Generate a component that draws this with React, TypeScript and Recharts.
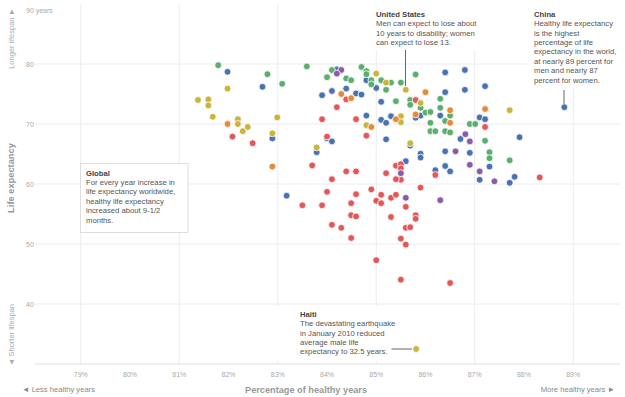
import React from 'react';
import { ScatterChart, Scatter, XAxis, YAxis, ReferenceLine } from 'recharts';

const FONT = '"Liberation Sans", Arial, Helvetica, sans-serif';

// [percentage of healthy years, life expectancy in years]
const bluePoints = [
  [81.98, 78.7], [82.69, 76.2], [82.89, 67.6], [84.2, 79.1], [84.8, 77.3], [84.1, 75.5],
  [83.9, 74.8], [84.39, 75.9], [84.59, 75.1], [84.7, 74.9], [84.8, 71.4], [84.0, 67.6],
  [84.1, 67.1], [83.79, 65.3], [83.18, 58.05], [85.0, 76.0], [85.1, 73.7], [85.1, 70.7],
  [85.2, 70.2], [85.3, 71.3], [85.8, 71.05], [85.9, 71.4], [86.4, 78.6], [86.8, 79.0],
  [87.21, 76.3], [86.8, 75.7], [86.4, 75.3], [86.3, 71.4], [87.1, 71.1], [87.21, 70.8],
  [85.2, 67.45], [85.69, 66.4], [86.71, 67.5], [87.91, 67.8], [86.4, 65.45], [86.9, 65.2],
  [85.9, 65.05], [85.9, 64.4], [85.6, 63.8], [86.2, 62.3], [86.4, 63.0], [86.5, 62.1],
  [87.3, 62.9], [87.1, 60.7], [87.71, 60.2], [87.81, 61.2], [88.82, 72.8],
];

const greenPoints = [
  [81.79, 79.8], [82.79, 78.3], [83.09, 76.7], [83.59, 79.6], [84.1, 79.0], [84.0, 77.8],
  [84.39, 77.6], [84.49, 77.3], [84.7, 79.5], [84.8, 78.8], [84.8, 78.3], [84.9, 77.3],
  [84.9, 76.6], [85.1, 77.3], [85.2, 75.7], [85.3, 76.9], [85.5, 76.9], [85.8, 78.25],
  [85.4, 73.8], [85.69, 74.0], [85.69, 73.2], [85.9, 72.7], [86.0, 71.9], [86.1, 72.0],
  [86.3, 74.2], [86.3, 72.7], [86.5, 71.4], [86.4, 70.5], [86.1, 70.2], [86.9, 70.0],
  [87.01, 70.0], [86.1, 68.8], [86.2, 68.8], [86.4, 68.8], [86.5, 68.6], [87.21, 67.2],
  [87.3, 65.3], [87.3, 64.3], [87.71, 63.95],
];

const redPoints = [
  [82.08, 67.9], [82.49, 66.8], [84.2, 72.8], [84.39, 74.1], [83.9, 70.8], [84.59, 70.8],
  [84.8, 68.05], [84.0, 67.9], [83.5, 56.45], [83.9, 56.45], [83.7, 63.1], [84.0, 58.7],
  [84.1, 60.8], [85.8, 74.0], [87.21, 69.5], [85.4, 63.05], [85.5, 63.3], [85.5, 62.6],
  [85.5, 60.7], [85.2, 61.8], [85.4, 60.8], [86.2, 61.5], [84.39, 62.1], [84.59, 62.1],
  [84.9, 59.1], [85.9, 59.4], [88.32, 61.1], [85.6, 56.2], [85.8, 54.8], [85.8, 54.2],
  [85.6, 52.7], [85.69, 52.8], [85.5, 50.9], [85.6, 49.9], [85.5, 44.05], [86.5, 43.5],
  [84.59, 58.3], [84.49, 56.8], [85.0, 57.2], [85.1, 58.2], [85.1, 56.8], [85.3, 57.7],
  [85.4, 58.2], [85.3, 54.5], [84.49, 54.8], [84.59, 54.6], [84.1, 53.2], [84.29, 52.7],
  [84.49, 51.0], [85.0, 47.3],
];

const yellowPoints = [
  [81.98, 75.9], [81.38, 74.0], [81.59, 74.1], [81.59, 73.1], [81.68, 71.2], [82.19, 70.8],
  [82.19, 70.0], [82.39, 69.5], [82.29, 68.8], [82.99, 71.1], [82.89, 68.45], [83.79, 66.1],
  [84.8, 69.8], [85.0, 78.4], [85.2, 76.9], [85.6, 75.7], [85.9, 73.5], [85.5, 71.3],
  [85.5, 70.3], [85.69, 66.8], [87.71, 72.3], [85.81, 32.5],
];

const orangePoints = [
  [81.98, 70.0], [82.89, 62.9], [84.29, 75.0], [84.49, 74.3], [86.0, 75.3], [85.4, 70.8],
  [85.8, 71.6], [86.5, 72.3], [86.5, 70.2], [87.21, 72.5], [84.9, 69.5],
];

const purplePoints = [
  [84.29, 79.0], [84.2, 78.4], [86.81, 68.3], [86.9, 67.1], [86.61, 65.45], [86.9, 63.2],
  [87.1, 62.1], [87.4, 60.45], [85.5, 61.8], [85.6, 57.7], [86.3, 57.3],
];

const xTicks = [79, 80, 81, 82, 83, 84, 85, 86, 87, 88, 89];
const yTicks = [40, 50, 60, 70, 80, 90];
const xGridValues = [79, 81, 83, 85, 87, 89];
const yGridValues = [40, 50, 60, 70, 80];

const usNote = ['Men can expect to lose about', '10 years to disability; women', 'can expect to lose 13.'];
const chinaNote = [
  'Healthy life expectancy', 'is the highest', 'percentage of life', 'expectancy in the world,',
  'at nearly 89 percent for', 'men and nearly 87', 'percent for women.',
];
const globalNote = ['For every year increase in', 'life expectancy worldwide,', 'healthy life expectancy', 'increased about 9-1/2', 'months.'];
const haitiNote = ['The devastating earthquake', 'in January 2010 reduced', 'average male life', 'expectancy to 32.5 years.'];

const toRows = (pts: number[][]) => pts.map(([x, y]) => ({ x, y }));

const dot = (color: string) => (props: any) => (
  <circle cx={props.cx} cy={props.cy} r={3.4} fill={color} stroke="#fff" strokeWidth={0.8} />
);

const XTick = (props: any) => (
  <text x={props.x} y={props.y + 12.5} textAnchor="middle" fontSize={7} fill="#aaa" fontFamily={FONT}>
    {props.payload.value}%
  </text>
);

const YTick = (props: any) => {
  const v = props.payload.value;
  return (
    <text x={26} y={props.y + (v === 90 ? 8.5 : 2.5)} textAnchor="start" fontSize={7} fill="#aaa" fontFamily={FONT}>
      {v === 90 ? '90 years' : v}
    </text>
  );
};

const Note = ({ x, y, title, lines }: { x: number; y: number; title: string; lines: string[] }) => (
  <g fontFamily={FONT} fontSize={7.7}>
    <text x={x} y={y} fontWeight="bold" fill="#444">{title}</text>
    {lines.map((l, i) => (
      <text key={i} x={x} y={y + 9.4 * (i + 1)} fill="#555">{l}</text>
    ))}
  </g>
);

export default function App() {
  return (
    <div style={{ position: 'absolute', left: 0, top: 0, width: 625, height: 397, background: '#fff' }}>
      <ScatterChart width={625} height={397} margin={{ top: 4, right: 5, bottom: 13, left: 0 }}>
        <XAxis
          type="number"
          dataKey="x"
          domain={[78.07, 89.95]}
          ticks={xTicks}
          interval={0}
          tickLine={false}
          tickSize={0}
          tickMargin={0}
          axisLine={{ stroke: '#dedede' }}
          height={20}
          tick={<XTick />}
          allowDataOverflow
        />
        <YAxis
          type="number"
          dataKey="y"
          domain={[30, 90]}
          ticks={yTicks}
          interval={0}
          width={35}
          tickLine={false}
          axisLine={false}
          tick={<YTick />}
          allowDataOverflow
        />
        {xGridValues.map((v) => (
          <ReferenceLine key={`vx${v}`} x={v} stroke="#ececec" strokeWidth={1} />
        ))}
        {yGridValues.map((v) => (
          <ReferenceLine key={`hy${v}`} y={v} stroke="#ececec" strokeWidth={1} />
        ))}
        <Scatter data={toRows(bluePoints)} shape={dot('#4a72b2')} isAnimationActive={false} />
        <Scatter data={toRows(greenPoints)} shape={dot('#5cae6e')} isAnimationActive={false} />
        <Scatter data={toRows(redPoints)} shape={dot('#e05858')} isAnimationActive={false} />
        <Scatter data={toRows(yellowPoints)} shape={dot('#c9b43e')} isAnimationActive={false} />
        <Scatter data={toRows(orangePoints)} shape={dot('#e48a3c')} isAnimationActive={false} />
        <Scatter data={toRows(purplePoints)} shape={dot('#8c5aab')} isAnimationActive={false} />
      </ScatterChart>

      <svg width={625} height={397} style={{ position: 'absolute', left: 0, top: 0, pointerEvents: 'none' }}>
        {/* axis titles */}
        <g fontFamily={FONT}>
          <text transform="translate(13.5,8) rotate(-90)" textAnchor="end" fontSize={7.5} fill="#aaa">Longer lifespan ►</text>
          <text transform="translate(13.5,178) rotate(-90)" textAnchor="middle" fontSize={9.3} fontWeight="bold" fill="#999">Life expectancy</text>
          <text transform="translate(13.5,366) rotate(-90)" textAnchor="start" fontSize={7.5} fill="#aaa">◄ Shorter lifespan</text>
          <text x={22} y={392} fontSize={7.6} fill="#888">◄ Less healthy years</text>
          <text x={245} y={392.5} fontSize={9.2} fontWeight="bold" fill="#999">Percentage of healthy years</text>
          <text x={615} y={392} textAnchor="end" fontSize={7.6} fill="#888">More healthy years ►</text>
        </g>

        {/* United States */}
        <rect x={370} y={0} width={112} height={50} fill="#fff" />
        <Note x={376} y={16.8} title="United States" lines={usNote} />
        <line x1={405.5} y1={50} x2={405.5} y2={86} stroke="#666" strokeWidth={1} />

        {/* China */}
        <rect x={528} y={0} width={97} height={88} fill="#fff" />
        <Note x={534} y={16.8} title="China" lines={chinaNote} />
        <line x1={564} y1={90} x2={564} y2={104} stroke="#666" strokeWidth={1} />

        {/* Global */}
        <rect x={80.5} y={163.5} width={107.5} height={69} fill="#fff" stroke="#ddd" strokeWidth={1} />
        <Note x={86} y={175.5} title="Global" lines={globalNote} />

        {/* Haiti */}
        <rect x={262} y={306} width={127} height={55} fill="#fff" />
        <Note x={300} y={316.8} title="Haiti" lines={haitiNote} />
        <line x1={391.5} y1={349} x2={412} y2={349} stroke="#666" strokeWidth={1} />
      </svg>
    </div>
  );
}
